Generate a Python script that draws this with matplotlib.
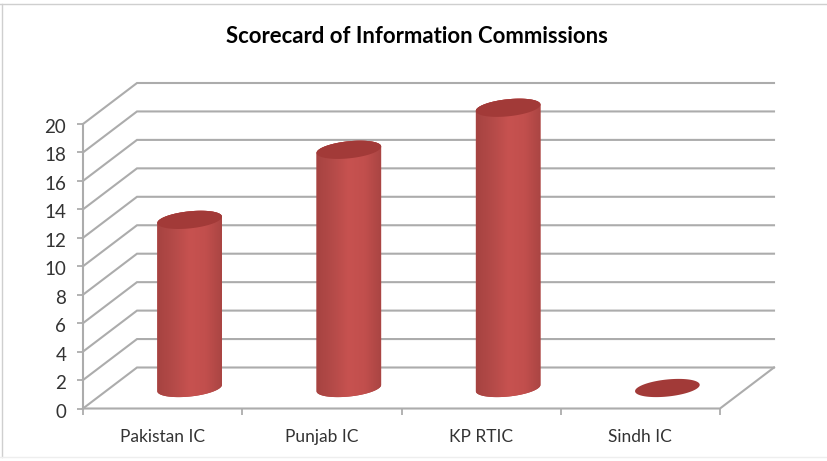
import numpy as np
import matplotlib
matplotlib.use("Agg")
import matplotlib.pyplot as plt
from matplotlib.colors import LinearSegmentedColormap
from matplotlib.lines import Line2D
from matplotlib.patches import Polygon
from matplotlib.transforms import ScaledTranslation

categories = ["Pakistan IC", "Punjab IC", "KP RTIC", "Sindh IC"]
scores = [12, 17, 20, 0]
y_ticks = list(range(0, 21, 2))
title = "Scorecard of Information Commissions"

W, H = 827, 461
plt.rcParams["font.family"] = ["Lato", "DejaVu Sans"]
fig = plt.figure(figsize=(W / 100, H / 100), dpi=100, facecolor="white")

# axes frame = front plane of the 3-D box (pixels)
X0, X1, Y0, Y20 = 83, 720, 408.5, 124
ax = fig.add_axes([X0 / W, 1 - Y0 / H, (X1 - X0) / W, (Y0 - Y20) / H])
ax.set_xlim(0, len(categories))
ax.set_ylim(0, 20)
for s in ax.spines.values():
    s.set_visible(False)
ax.patch.set_alpha(0)

px_x = len(categories) / (X1 - X0)   # data per pixel
px_y = 20 / (Y0 - Y20)
DEPTH_X, DEPTH_Y = 54 * px_x, 41 * px_y
GRID = "#acacac"
GRID_LW = 1.5

# walls and floor
for v in y_ticks:
    ax.plot([0, DEPTH_X, len(categories) + DEPTH_X], [v, v + DEPTH_Y, v + DEPTH_Y],
            color=GRID, lw=GRID_LW, clip_on=False, zorder=1, solid_joinstyle="miter")
ax.plot([0, 0], [0, 20], color=GRID, lw=GRID_LW, clip_on=False, zorder=2)
ax.plot([0, len(categories), len(categories) + DEPTH_X], [0, 0, DEPTH_Y],
        color=GRID, lw=GRID_LW, clip_on=False, zorder=2)

# ticks
ax.set_yticks(y_ticks)
ax.set_yticklabels([str(v) for v in y_ticks], fontsize=13.5, color="#333333")
ax.set_xticks(np.arange(len(categories) + 1), minor=False)
ax.set_xticklabels([""] * (len(categories) + 1))
ax.set_xticks(np.arange(len(categories)) + 0.5, minor=True)
ax.set_xticklabels(categories, minor=True, fontsize=12.5, color="#333333")
ax.tick_params(axis="both", which="major", length=4, width=1.3, color=GRID)
ax.tick_params(axis="y", pad=8)
ax.tick_params(axis="x", which="minor", length=0, pad=15)
nudge = ScaledTranslation(0, -2 / 100, fig.dpi_scale_trans)
for lab in ax.get_yticklabels():
    lab.set_transform(lab.get_transform() + nudge)

# cylinders
A, B, THETA = 32.5, 8.5, np.radians(6)
SCALE = 0.985
cmap = LinearSegmentedColormap.from_list(
    "cyl", ["#a64341", "#b44a48", "#c75250", "#c24f4d", "#aa4543"])
TOP = "#a23a38"


def ell(cx, cy, t):
    ex = A * np.cos(t) * np.cos(THETA) - B * np.sin(t) * np.sin(THETA)
    ey = A * np.cos(t) * np.sin(THETA) + B * np.sin(t) * np.cos(THETA)
    return cx + ex * px_x, cy + ey * px_y


for i, v in enumerate(scores):
    cx = i + 0.5 + DEPTH_X / 2
    cy0 = DEPTH_Y / 2
    cy1 = cy0 + v * SCALE
    if v > 0:
        bx, by = ell(cx, cy0, np.linspace(np.pi, 2 * np.pi, 60))
        tx, ty = ell(cx, cy1, np.linspace(0, np.pi, 60))
        poly = Polygon(np.column_stack([np.r_[bx, tx], np.r_[by, ty]]),
                       closed=True, fc="#b54644", ec="none", zorder=3, clip_on=False)
        ax.add_patch(poly)
        im = ax.imshow(np.linspace(0, 1, 128).reshape(1, -1), cmap=cmap, aspect="auto",
                       extent=[cx - A * px_x, cx + A * px_x, cy0 - 2, cy1 + 2],
                       zorder=4, interpolation="bilinear")
        im.set_clip_path(poly)
        im.set_clip_box(fig.bbox)
    ex, ey = ell(cx, cy1, np.linspace(0, 2 * np.pi, 120))
    ax.add_patch(Polygon(np.column_stack([ex, ey]), closed=True, fc=TOP, ec="none",
                         zorder=5, clip_on=False))
ax.set_xlim(0, len(categories))
ax.set_ylim(0, 20)

fig.text(416.5 / W, 1 - 36.5 / H, title, ha="center", va="center", fontsize=15.9,
         fontweight="bold", color="#000000")

# chart-area border
BORDER = "#cfcfcf"
fig.add_artist(Line2D([0, 1], [1 - 4 / H, 1 - 4 / H], color=BORDER, lw=1))
fig.add_artist(Line2D([1.5 / W, 1.5 / W], [1 - 4 / H, 1 - 457 / H], color=BORDER, lw=1))
fig.add_artist(Line2D([0, 1], [1 - 457 / H, 1 - 457 / H], color="#eeeeee", lw=1))

fig.savefig("out.png", dpi=100, facecolor="white")
